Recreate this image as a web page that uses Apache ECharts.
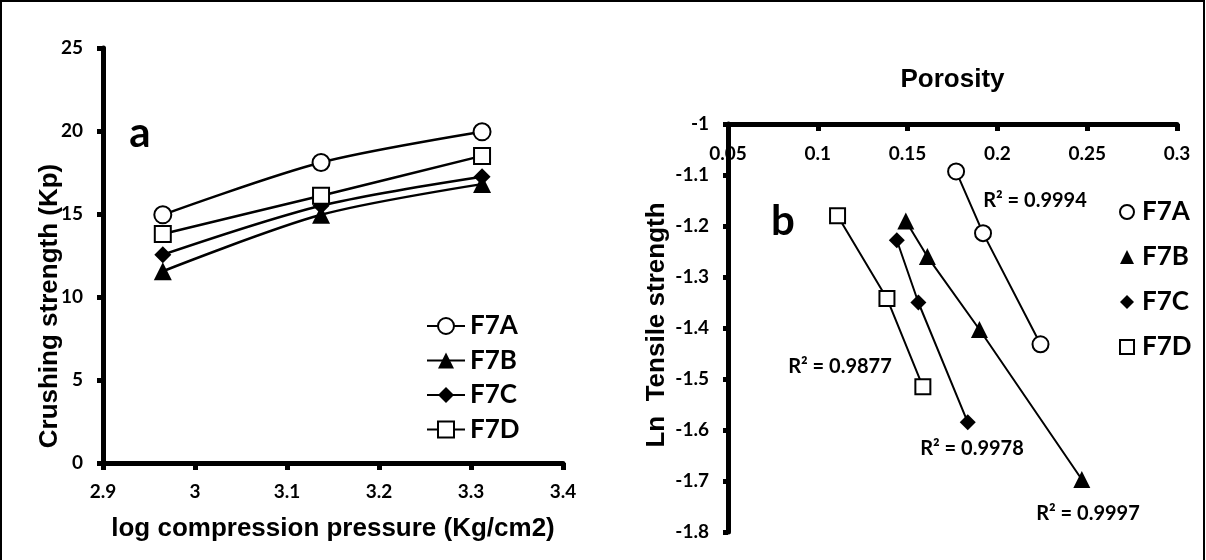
<!DOCTYPE html>
<html>
<head>
<meta charset="utf-8">
<script src="https://cdn.jsdelivr.net/npm/echarts@6/dist/echarts.min.js"></script>
<style>
  html, body { margin: 0; padding: 0; background: #fff; }
  #main { width: 1206px; height: 560px; }
</style>
</head>
<body>
<div id="main"></div>
<script>
// panel a: crushing strength vs log compression pressure
var logPressure = [2.965, 3.137, 3.312];
var crushF7A = [14.95, 18.1, 19.95];
var crushF7B = [11.55, 14.95, 16.8];
var crushF7C = [12.55, 15.5, 17.25];
var crushF7D = [13.8, 16.1, 18.5];

// panel b: ln tensile strength vs porosity, [porosity, ln TS]
var poroF7A = [[0.177, -1.093], [0.192, -1.214], [0.224, -1.432]];
var poroF7B = [[0.149, -1.19], [0.161, -1.26], [0.19, -1.403], [0.247, -1.697]];
var poroF7C = [[0.144, -1.228], [0.156, -1.35], [0.1835, -1.585]];
var poroF7D = [[0.111, -1.18], [0.1385, -1.342], [0.1585, -1.515]];

var names = ['F7A', 'F7B', 'F7C', 'F7D'];
var r2Labels = ['R\u00b2 = 0.9994', 'R\u00b2 = 0.9997', 'R\u00b2 = 0.9978', 'R\u00b2 = 0.9877'];

var tickFont = 'Lato';
var titleFont = 'Liberation Sans';

var symbols = {
    F7A: {symbol: 'circle', size: 17, style: {color: '#fff', borderColor: '#000', borderWidth: 2}},
    F7B: {symbol: 'triangle', size: 18, style: {color: '#000'}},
    F7C: {symbol: 'diamond', size: 17, style: {color: '#000'}},
    F7D: {symbol: 'rect', size: 16, style: {color: '#fff', borderColor: '#000', borderWidth: 2}}
};

function pair(xs, ys) {
    return xs.map(function (x, i) { return [x, ys[i]]; });
}

var crushData = {F7A: crushF7A, F7B: crushF7B, F7C: crushF7C, F7D: crushF7D};
var poroData = {F7A: poroF7A, F7B: poroF7B, F7C: poroF7C, F7D: poroF7D};

var axisLine = {lineStyle: {color: '#000', width: 5}};
var tickStyle = {color: '#000', width: 5};
var tickLabel = {color: '#000', fontFamily: tickFont, fontWeight: 'bold', fontSize: 19};

var series = [];
names.forEach(function (n) {
    series.push({
        name: n,
        type: 'line',
        xAxisIndex: 0,
        yAxisIndex: 0,
        smooth: 0.3,
        symbol: symbols[n].symbol,
        symbolSize: symbols[n].size,
        itemStyle: symbols[n].style,
        lineStyle: {color: '#000', width: 2.5},
        data: pair(logPressure, crushData[n])
    });
});
names.forEach(function (n) {
    series.push({
        name: n,
        type: 'line',
        xAxisIndex: 1,
        yAxisIndex: 1,
        symbol: symbols[n].symbol,
        symbolSize: symbols[n].size - 1,
        itemStyle: symbols[n].style,
        lineStyle: {color: '#000', width: 2},
        data: poroData[n]
    });
});

var r2Pos = [[1035, 201], [1088, 514], [972, 449], [840, 367]];
var graphics = [
    {type: 'rect', shape: {x: 1, y: 1, width: 1203, height: 620}, style: {fill: 'none', stroke: '#000', lineWidth: 2}, silent: true},
    {type: 'text', x: 50, y: 306, rotation: Math.PI / 2,
        style: {text: 'Crushing strength (Kp)', font: 'bold 26px ' + titleFont, fill: '#000', align: 'center', verticalAlign: 'middle'}},
    {type: 'text', x: 657, y: 325, rotation: Math.PI / 2,
        style: {text: 'Ln  Tensile strength', font: 'bold 26px ' + titleFont, fill: '#000', align: 'center', verticalAlign: 'middle'}},
    {type: 'text', x: 140, y: 133, style: {text: 'a', font: 'bold 42px ' + tickFont, fill: '#000', align: 'center', verticalAlign: 'middle'}},
    {type: 'text', x: 783, y: 221, style: {text: 'b', font: 'bold 42px ' + tickFont, fill: '#000', align: 'center', verticalAlign: 'middle'}}
];
r2Labels.forEach(function (t, i) {
    graphics.push({type: 'text', x: r2Pos[i][0], y: r2Pos[i][1],
        style: {text: t, font: 'bold 20px ' + tickFont, fill: '#000', align: 'center', verticalAlign: 'middle'}});
});

var myChart = echarts.init(document.getElementById('main'));

var option = {
    backgroundColor: '#fff',
    animation: false,
    grid: [
        {left: 103, top: 48, width: 460, height: 415},
        {left: 728, top: 124, width: 449, height: 408}
    ],
    legend: [
        {
            data: names,
            orient: 'vertical',
            left: 421,
            top: 308,
            itemWidth: 38,
            itemHeight: 20,
            itemGap: 8.5,
            selectedMode: false,
            textStyle: {color: '#000', fontFamily: tickFont, fontWeight: 'bold', fontSize: 26, lineHeight: 26}
        },
        {
            data: names.map(function (n) {
                return {name: n, icon: symbols[n].symbol, itemStyle: symbols[n].style};
            }),
            orient: 'vertical',
            left: 1114,
            top: 194,
            itemWidth: 14,
            itemHeight: 14,
            itemGap: 19,
            selectedMode: false,
            textStyle: {color: '#000', fontFamily: tickFont, fontWeight: 'bold', fontSize: 26, lineHeight: 26, padding: [0, 0, 0, 3]}
        }
    ],
    xAxis: [
        {
            type: 'value',
            gridIndex: 0,
            min: 2.9,
            max: 3.4,
            interval: 0.1,
            axisLine: axisLine,
            axisTick: {length: 7, lineStyle: tickStyle},
            axisLabel: Object.assign({margin: 19, formatter: function (v) { return String(+v.toFixed(1)); }}, tickLabel),
            splitLine: {show: false},
            name: 'log compression pressure (Kg/cm2)',
            nameLocation: 'middle',
            nameGap: 53,
            nameTextStyle: {color: '#000', fontFamily: titleFont, fontWeight: 'bold', fontSize: 26}
        },
        {
            type: 'value',
            gridIndex: 1,
            position: 'top',
            min: 0.05,
            max: 0.3,
            interval: 0.05,
            axisLine: Object.assign({onZero: false}, axisLine),
            axisTick: {inside: true, length: 7, lineStyle: tickStyle},
            axisLabel: Object.assign({inside: true, margin: 20, formatter: function (v) { return String(+v.toFixed(2)); }}, tickLabel),
            splitLine: {show: false},
            name: 'Porosity',
            nameLocation: 'middle',
            nameGap: 31,
            nameTextStyle: {color: '#000', fontFamily: titleFont, fontWeight: 'bold', fontSize: 26}
        }
    ],
    yAxis: [
        {
            type: 'value',
            gridIndex: 0,
            min: 0,
            max: 25,
            interval: 5,
            axisLine: Object.assign({show: true}, axisLine),
            axisTick: {show: true, length: 6, lineStyle: tickStyle},
            axisLabel: Object.assign({margin: 20}, tickLabel),
            splitLine: {show: false}
        },
        {
            type: 'value',
            gridIndex: 1,
            min: -1.8,
            max: -1,
            interval: 0.1,
            axisLine: Object.assign({show: true, onZero: false}, axisLine),
            axisTick: {show: true, length: 5, lineStyle: tickStyle},
            axisLabel: Object.assign({margin: 19, formatter: function (v) { return String(+v.toFixed(1)); }}, tickLabel),
            splitLine: {show: false}
        }
    ],
    graphic: graphics,
    series: series
};

myChart.setOption(option);
</script>
</body>
</html>
